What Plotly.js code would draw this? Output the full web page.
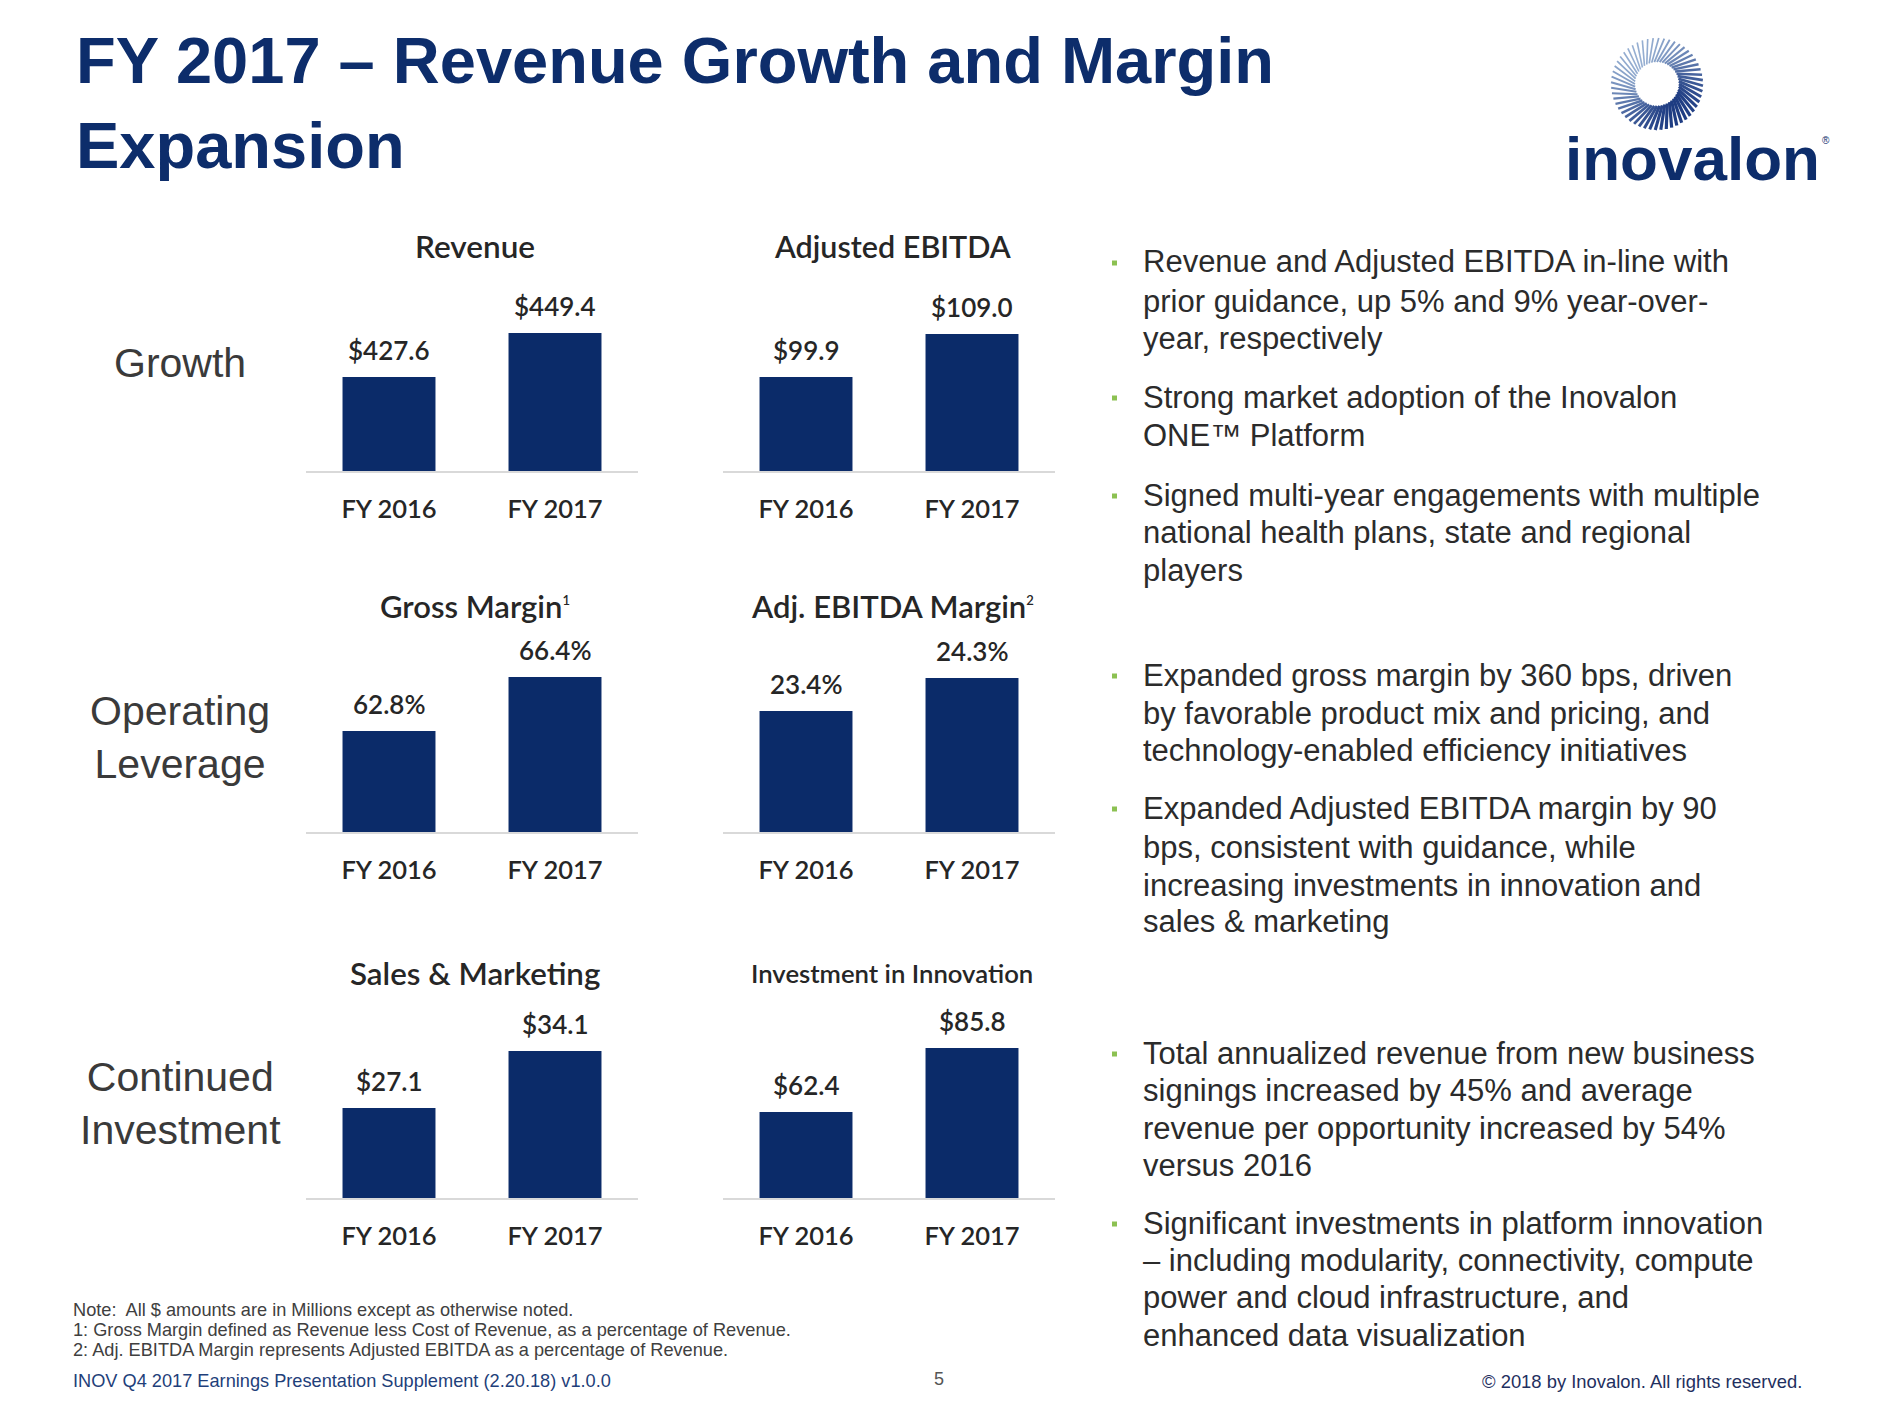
<!DOCTYPE html>
<html>
<head>
<meta charset="utf-8">
<script src="https://cdn.plot.ly/plotly-3.0.1.min.js"></script>
<style>
  html, body { margin: 0; padding: 0; background: #ffffff; }
  #chart { width: 1879px; height: 1410px; }
</style>
</head>
<body>
<div id="chart"></div>
<script>
// ---------------- data ----------------
const years = ['FY 2016', 'FY 2017'];
const revenue = [427.6, 449.4];            // $ millions
const adjEbitda = [99.9, 109.0];           // $ millions
const grossMargin = [62.8, 66.4];          // %
const adjEbitdaMargin = [23.4, 24.3];      // %
const salesMarketing = [27.1, 34.1];       // $ millions
const innovation = [62.4, 85.8];           // $ millions

const SUP = n => '<sup><span style="font-size:13px">' + n + '</span></sup>';
const panelTitles = ['Revenue', 'Adjusted EBITDA', 'Gross Margin' + SUP(1),
                     'Adj. EBITDA Margin' + SUP(2), 'Sales & Marketing', 'Investment in Innovation'];
const rowLabels = ['Growth', 'Operating<br>Leverage', 'Continued<br>Investment'];

const bullets = [
  ['Revenue and Adjusted EBITDA in-line with', 'prior guidance, up 5% and 9% year-over-', 'year, respectively'],
  ['Strong market adoption of the Inovalon', 'ONE™ Platform'],
  ['Signed multi-year engagements with multiple', 'national health plans, state and regional', 'players'],
  ['Expanded gross margin by 360 bps, driven', 'by favorable product mix and pricing, and', 'technology-enabled efficiency initiatives'],
  ['Expanded Adjusted EBITDA margin by 90', 'bps, consistent with guidance, while', 'increasing investments in innovation and', 'sales & marketing'],
  ['Total annualized revenue from new business', 'signings increased by 45% and average', 'revenue per opportunity increased by 54%', 'versus 2016'],
  ['Significant investments in platform innovation', '– including modularity, connectivity, compute', 'power and cloud infrastructure, and', 'enhanced data visualization']
];
const notes = ['Note:  All $ amounts are in Millions except as otherwise noted.',
               '1: Gross Margin defined as Revenue less Cost of Revenue, as a percentage of Revenue.',
               '2: Adj. EBITDA Margin represents Adjusted EBITDA as a percentage of Revenue.'];
const footerLeft = 'INOV Q4 2017 Earnings Presentation Supplement (2.20.18) v1.0.0';
const footerRight = '© 2018 by Inovalon. All rights reserved.';
const pageNumber = '5';

// ---------------- layout helpers ----------------
const W = 1879, H = 1410;
const px = x => x / W;
const py = y => 1 - y / H;

const NAVY = '#0b2b69';
const TXT = '#262626';
const CHART_FONT = 'Lato, "Open Sans", sans-serif';
const SANS = '"Liberation Sans", Arial, sans-serif';

const fmtUsd = v => '$' + v.toFixed(1);
const fmtPct = v => v.toFixed(1) + '%';

const panels = [
  {values: revenue,         fmt: fmtUsd, col: 0, row: 0, range: [381.0, 465.2], tsize: 31.5},
  {values: adjEbitda,       fmt: fmtUsd, col: 1, row: 0, range: [80.0, 116.0],  tsize: 30.5},
  {values: grossMargin,     fmt: fmtPct, col: 0, row: 1, range: [56.07, 67.4],  tsize: 31},
  {values: adjEbitdaMargin, fmt: fmtPct, col: 1, row: 1, range: [20.1, 24.74],  tsize: 31},
  {values: salesMarketing,  fmt: fmtUsd, col: 0, row: 2, range: [16.05, 36.93], tsize: 31.3},
  {values: innovation,      fmt: fmtUsd, col: 1, row: 2, range: [30.96, 93.1],  tsize: 25.7}
];
const colX = [[306, 638], [723, 1055]];
const rowBase = [471, 832, 1198];
const rowTitleY = [246, 606, 973];
const plotH = 170;

const traces = [];
const layout = {
  width: W, height: H,
  margin: {l: 0, r: 0, t: 0, b: 0},
  paper_bgcolor: '#ffffff', plot_bgcolor: 'rgba(0,0,0,0)',
  showlegend: false,
  bargap: 0.44,
  title: {
    text: 'FY 2017 – Revenue Growth and Margin<br>Expansion',
    x: px(76), xanchor: 'left', xref: 'container',
    y: 1 - 83 / H, yanchor: 'middle', yref: 'container',
    font: {family: SANS, size: 65, weight: 700, color: '#0d2d6b'}
  },
  annotations: [],
  shapes: []
};

panels.forEach((p, i) => {
  const n = i + 1;
  const xa = n === 1 ? 'xaxis' : 'xaxis' + n;
  const ya = n === 1 ? 'yaxis' : 'yaxis' + n;
  const xr = n === 1 ? 'x' : 'x' + n;
  const yr = n === 1 ? 'y' : 'y' + n;
  const [x0, x1] = colX[p.col];
  const base = rowBase[p.row];
  traces.push({
    type: 'bar', x: years, y: p.values, xaxis: xr, yaxis: yr,
    marker: {color: NAVY, line: {width: 0}}, hoverinfo: 'skip'
  });
  layout[xa] = {
    domain: [px(x0), px(x1)], anchor: yr, type: 'category',
    showline: true, linecolor: '#d9d9d9', linewidth: 2,
    showgrid: false, zeroline: false, ticks: '', ticklabelstandoff: 14,
    tickfont: {family: CHART_FONT, size: 25.5, weight: 600, color: TXT},
    fixedrange: true
  };
  layout[ya] = {
    domain: [py(base), py(base - plotH)], anchor: xr, range: p.range,
    visible: false, showgrid: false, zeroline: false, fixedrange: true
  };
  // value labels
  p.values.forEach((v, j) => {
    layout.annotations.push({
      xref: xr, yref: yr, x: years[j], y: v, text: p.fmt(v),
      showarrow: false, yanchor: 'middle', xanchor: 'center', yshift: 27,
      font: {family: CHART_FONT, size: 26, weight: 600, color: TXT}
    });
  });
  // panel title
  layout.annotations.push({
    xref: 'paper', yref: 'paper', x: px((x0 + x1) / 2 + 3), y: py(rowTitleY[p.row]),
    text: panelTitles[i], showarrow: false, xanchor: 'center', yanchor: 'middle',
    font: {family: CHART_FONT, size: p.tsize, weight: 600, color: TXT}
  });
});

// row labels
const rowLabelY = [363, 737, 1103];
rowLabels.forEach((t, i) => {
  layout.annotations.push({
    xref: 'paper', yref: 'paper', x: px(180), y: py(rowLabelY[i]), text: t,
    showarrow: false, xanchor: 'center', yanchor: 'middle',
    font: {family: SANS, size: 41, color: '#3a3a3a'}
  });
});

// bullets
const bulletLineY = [
  [262, 301, 339], [397, 435], [495, 532, 570],
  [675, 713, 750], [808, 847, 885, 922],
  [1053, 1090, 1128, 1165], [1223, 1260, 1297, 1335]
];
bullets.forEach((lines, b) => {
  lines.forEach((t, k) => {
    layout.annotations.push({
      xref: 'paper', yref: 'paper', x: px(1141), y: py(bulletLineY[b][k]), text: t,
      showarrow: false, xanchor: 'left', yanchor: 'middle',
      font: {family: SANS, size: 31, color: '#2b2b2b'}
    });
  });
  const yb = bulletLineY[b][0] + 1;
  layout.shapes.push({
    type: 'rect', xref: 'paper', yref: 'paper',
    x0: px(1112), x1: px(1117), y0: py(yb + 2.5), y1: py(yb - 2.5),
    fillcolor: '#8cc152', line: {width: 0}
  });
});

// footnotes
const noteY = [1310, 1330, 1350];
notes.forEach((t, i) => {
  layout.annotations.push({
    xref: 'paper', yref: 'paper', x: px(71), y: py(noteY[i]), text: t,
    showarrow: false, xanchor: 'left', yanchor: 'middle',
    font: {family: SANS, size: 18.2, color: '#404040'}
  });
});
layout.annotations.push({
  xref: 'paper', yref: 'paper', x: px(71), y: py(1381), text: footerLeft,
  showarrow: false, xanchor: 'left', yanchor: 'middle',
  font: {family: SANS, size: 18.2, color: '#1f3f7a'}
});
layout.annotations.push({
  xref: 'paper', yref: 'paper', x: px(939), y: py(1379), text: pageNumber,
  showarrow: false, xanchor: 'center', yanchor: 'middle',
  font: {family: SANS, size: 18, color: '#555555'}
});
layout.annotations.push({
  xref: 'paper', yref: 'paper', x: px(1804), y: py(1381), text: footerRight,
  showarrow: false, xanchor: 'right', yanchor: 'middle',
  font: {family: SANS, size: 18.4, color: '#1f3060'}
});

// logo: ring of swirling radial ticks + wordmark
const cx = 1657, cy = 84, r0 = 22, r1 = 46, N = 52;
for (let k = 0; k < N; k++) {
  const a = k * 2 * Math.PI / N;
  const a2 = a + 0.28;
  // darker toward lower-right, lighter toward upper-left
  const t = 0.5 + 0.5 * Math.cos(a - Math.PI / 4);   // 1 at lower-right (screen coords)
  const r = Math.round(150 - 120 * t), g = Math.round(175 - 115 * t), bl = Math.round(210 - 80 * t);
  layout.shapes.push({
    type: 'line', xref: 'paper', yref: 'paper',
    x0: px(cx + r0 * Math.cos(a)), y0: py(cy + r0 * Math.sin(a)),
    x1: px(cx + r1 * Math.cos(a2)), y1: py(cy + r1 * Math.sin(a2)),
    line: {color: `rgb(${r},${g},${bl})`, width: 1.6 + 1.6 * t}
  });
}
layout.annotations.push({
  xref: 'paper', yref: 'paper', x: px(1692), y: py(158), text: 'inovalon',
  showarrow: false, xanchor: 'center', yanchor: 'middle',
  font: {family: SANS, size: 62, weight: 700, color: '#0d2d6b'}
});
layout.annotations.push({
  xref: 'paper', yref: 'paper', x: px(1826), y: py(140), text: '®',
  showarrow: false, xanchor: 'center', yanchor: 'middle',
  font: {family: SANS, size: 10, color: '#0d2d6b'}
});

Plotly.newPlot('chart', traces, layout, {displayModeBar: false, staticPlot: true});
</script>
</body>
</html>
